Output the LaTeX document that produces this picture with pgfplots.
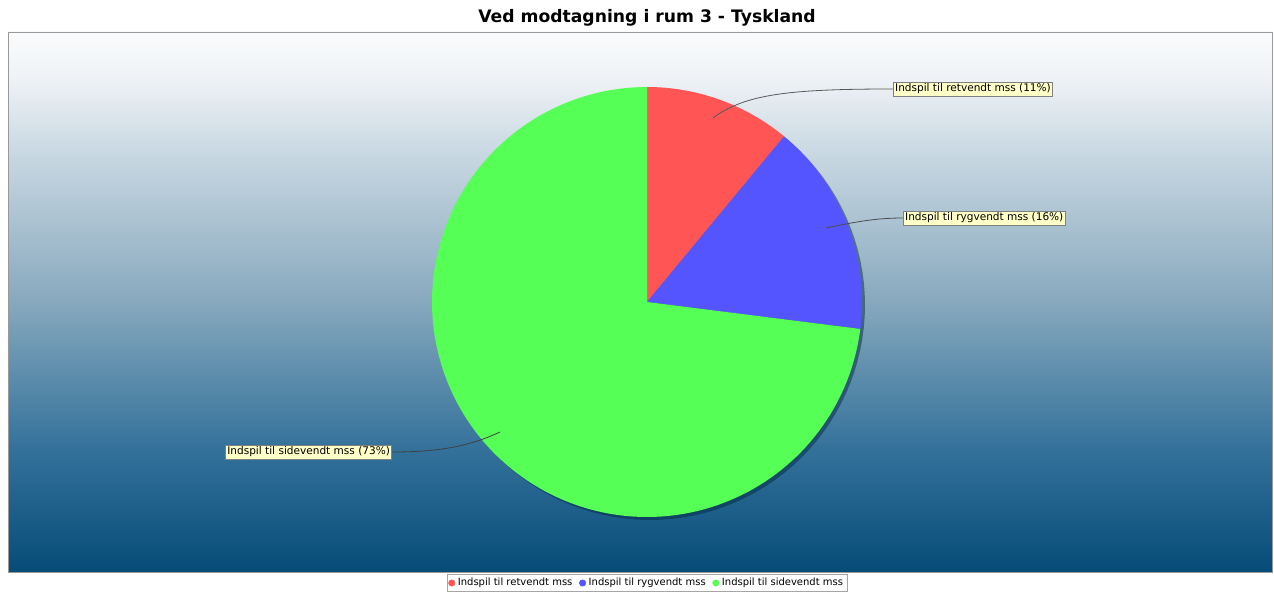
\documentclass[border=0pt]{standalone}
\usepackage{fontspec}
\setmainfont{DejaVu Sans}
\usepackage{pgfplots}
\usepackage{pgfplotstable}
\pgfplotsset{compat=1.18}
\definecolor{sRed}{HTML}{FF5555}
\definecolor{sBlue}{HTML}{5555FF}
\definecolor{sGreen}{HTML}{55FF55}
\definecolor{bgT}{HTML}{FAFBFC}
\definecolor{bg1}{HTML}{EEF2F6}
\definecolor{bg2}{HTML}{CAD9E3}
\definecolor{bg3}{HTML}{88A9BE}
\definecolor{bg4}{HTML}{33719A}
\definecolor{bgB}{HTML}{064C78}
\definecolor{lblFill}{HTML}{FFFFC8}
\pgfdeclareverticalshading{plotbg}{100bp}{color(0bp)=(bgB); color(25bp)=(bgB); color(36.3bp)=(bg4); color(50.2bp)=(bg3); color(64.1bp)=(bg2); color(70.6bp)=(bg1); color(75bp)=(bgT); color(100bp)=(bgT)}
\pgfplotstableread{
slice value
retvendt 11
rygvendt 16
sidevendt 73
}\piedata
\newcommand\lblfont{\fontsize{7.9}{9}\selectfont}
\newcommand\legfont{\fontsize{7.5}{8.5}\selectfont}
\begin{document}
\begin{tikzpicture}
\pgfplotstablegetelem{0}{value}\of\piedata \pgfmathsetmacro\va{\pgfplotsretval}
\pgfplotstablegetelem{1}{value}\of\piedata \pgfmathsetmacro\vb{\pgfplotsretval}
\pgfplotstablegetelem{2}{value}\of\piedata \pgfmathsetmacro\vc{\pgfplotsretval}
\pgfmathsetmacro\aA{90-3.6*\va}
\pgfmathsetmacro\aB{\aA-3.6*\vb}
\pgfmathsetmacro\aC{\aB-3.6*\vc}
\begin{axis}[
  width=955.5pt, height=445.5pt, scale only axis,
  xmin=0, xmax=1274, ymin=0, ymax=594,
  hide axis, clip=false,
  legend columns=3,
  legend style={at={(axis cs:647,11)}, anchor=center, draw=gray!70, fill=white,
    font=\legfont, inner sep=0.8pt, row sep=0pt,
    /tikz/every even column/.append style={column sep=3pt}},
  legend image code/.code={\fill[#1] (0.12cm,0) circle (2.4pt);},
]
\fill[white] (axis cs:0,0) rectangle (axis cs:1274,594);
\fill[shading=plotbg] (axis cs:8,22) rectangle (axis cs:1272,562);
\draw[gray!80, line width=0.6pt] (axis cs:8,22) rectangle (axis cs:1272,562);
\node[font=\bfseries\fontsize{12.9}{15}\selectfont] at (axis cs:647,576) {Ved modtagning i rum 3 - Tyskland};
% shadow
\addplot[fill=black!45!bgB, fill opacity=0.5, draw=none, domain=0:360, samples=120, variable=\t, forget plot]
  ({650+215*cos(\t)},{289+215*sin(\t)}) -- cycle;
% slices
\addplot[fill=sRed, draw=none, domain=\aA:90, samples=40, variable=\t, forget plot]
  ({647+215*cos(\t)},{292+215*sin(\t)}) -- (axis cs:647,292) -- cycle;
\addplot[fill=sBlue, draw=none, domain=\aB:\aA, samples=50, variable=\t, forget plot]
  ({647+215*cos(\t)},{292+215*sin(\t)}) -- (axis cs:647,292) -- cycle;
\addplot[fill=sGreen, draw=none, domain=\aC:\aB, samples=150, variable=\t, forget plot]
  ({647+215*cos(\t)},{292+215*sin(\t)}) -- (axis cs:647,292) -- cycle;
% connectors
\draw[black!65, line width=0.6pt] (axis cs:713,476) .. controls (745,500) and (790,505) .. (893,505);
\draw[black!70, line width=0.6pt] (axis cs:826,366) .. controls (855,372) and (875,376) .. (903,376);
\draw[black!75, line width=0.6pt] (axis cs:500,162) .. controls (470,148) and (440,142) .. (392,142);
% labels
\node[fill=lblFill, draw=gray, inner sep=1.4pt, font=\lblfont, anchor=west] at (axis cs:893,505) {Indspil til retvendt mss (11\%)};
\node[fill=lblFill, draw=gray, inner sep=1.4pt, font=\lblfont, anchor=west] at (axis cs:903,376) {Indspil til rygvendt mss (16\%)};
\node[fill=lblFill, draw=gray, inner sep=1.4pt, font=\lblfont, anchor=east] at (axis cs:392,142) {Indspil til sidevendt mss (73\%)};
% legend
\addlegendimage{sRed}
\addlegendentry{Indspil til retvendt mss}
\addlegendimage{sBlue}
\addlegendentry{Indspil til rygvendt mss}
\addlegendimage{sGreen}
\addlegendentry{Indspil til sidevendt mss}
\end{axis}
\end{tikzpicture}
\end{document}
